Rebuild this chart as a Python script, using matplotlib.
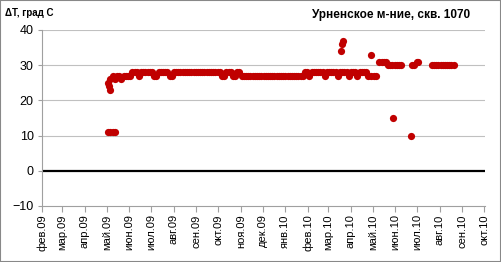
import datetime as dt
import matplotlib
matplotlib.use('Agg')
import matplotlib.pyplot as plt
import matplotlib.dates as mdates
from matplotlib.patches import Rectangle

MONTHS_RU = ['янв', 'фев', 'мар', 'апр', 'май', 'июн',
             'июл', 'авг', 'сен', 'окт', 'ноя', 'дек']

# main band: one reading every 3 days from 2009-05-03
BAND_START = dt.date(2009, 5, 3)
BAND_STEP_DAYS = 3
band_values = [
    25, 26, 27, 26, 27, 27, 26, 27, 27, 27, 27, 28, 28, 28, 27, 28, 28, 28, 28, 28,
    28, 27, 27, 28, 28, 28, 28, 28, 27, 27, 28, 28, 28, 28, 28, 28, 28, 28, 28, 28,
    28, 28, 28, 28, 28, 28, 28, 28, 28, 28, 28, 28, 27, 27, 28, 28, 28, 27, 27, 28,
    28, 27, 27, 27, 27, 27, 27, 27, 27, 27, 27, 27, 27, 27, 27, 27, 27, 27, 27, 27,
    27, 27, 27, 27, 27, 27, 27, 27, 27, 27, 28, 28, 27, 28, 28, 28, 28, 28, 28, 27,
    28, 28, 28, 28, 28, 27, 28, 28, 28, 28, 27, 28, 28, 28, 27, 28, 28, 28, 28, 27,
    27,
]

# separate readings (start-up, spikes, tail of 2010)
extra_dates = [
    '2009-05-03', '2009-05-06', '2009-05-09', '2009-05-12', '2009-05-06', '2009-05-04',
    '2010-03-19', '2010-03-20', '2010-03-21', '2010-04-29',
    '2010-05-02', '2010-05-06',
    '2010-05-10', '2010-05-13', '2010-05-16', '2010-05-19',
    '2010-05-22', '2010-05-25', '2010-05-28', '2010-05-31', '2010-06-03', '2010-06-06', '2010-06-09',
    '2010-05-29', '2010-06-23',
    '2010-06-24', '2010-06-27', '2010-06-30', '2010-07-02',
    '2010-07-21', '2010-07-24', '2010-07-27', '2010-07-30', '2010-08-02', '2010-08-05',
    '2010-08-08', '2010-08-11', '2010-08-14', '2010-08-17', '2010-08-20',
]
extra_values = [
    11, 11, 11, 11, 23, 24,
    34, 36, 37, 33,
    27, 27,
    31, 31, 31, 31,
    30, 30, 30, 30, 30, 30, 30,
    15, 10,
    30, 30, 31, 31,
    30, 30, 30, 30, 30, 30,
    30, 30, 30, 30, 30,
]

Y_TICKS = [-10, 0, 10, 20, 30, 40]
DOT_COLOR = '#C00000'

band_dates = [BAND_START + dt.timedelta(days=BAND_STEP_DAYS * i)
              for i in range(len(band_values))]
extra_dates = [dt.date.fromisoformat(d) for d in extra_dates]

fig = plt.figure(figsize=(5.01, 2.62), dpi=100)
ax = fig.add_axes([42 / 501, 1 - 206 / 262, (485 - 42) / 501, (206 - 30) / 262])

ax.scatter(band_dates, band_values, s=27, color=DOT_COLOR, linewidths=0, zorder=3)
ax.scatter(extra_dates, extra_values, s=27, color=DOT_COLOR, linewidths=0, zorder=3)

ax.set_ylim(-10, 40)
ax.set_yticks(Y_TICKS)
ax.set_xlim(dt.date(2009, 2, 1), dt.date(2010, 10, 2))

ax.xaxis.set_major_locator(mdates.MonthLocator())
ax.xaxis.set_major_formatter(
    plt.FuncFormatter(lambda v, _: '%s.%s' % (MONTHS_RU[mdates.num2date(v).month - 1],
                                              mdates.num2date(v).strftime('%y'))))

for y in Y_TICKS[1:]:
    if y != 0:
        ax.axhline(y, color='#c0c0c0', linewidth=0.8, zorder=1)
ax.axhline(0, color='black', linewidth=1.6, zorder=2)

for side in ['top', 'right']:
    ax.spines[side].set_visible(False)
for side in ['left', 'bottom']:
    ax.spines[side].set_color('#a0a0a0')
    ax.spines[side].set_linewidth(0.8)

ax.tick_params(axis='y', length=3, color='#a0a0a0', labelsize=9, pad=3)
ax.tick_params(axis='x', length=4, color='#a0a0a0', labelsize=8, pad=2,
               labelrotation=90)
for lab in ax.get_xticklabels() + ax.get_yticklabels():
    lab.set_family('Liberation Sans')

fig.text(5 / 501, 1 - 13 / 262, 'ΔT, град С', fontsize=7, fontweight='bold',
         family='Liberation Sans', va='center', ha='left')
fig.text(470 / 501, 1 - 15 / 262, 'Урненское м-ние, скв. 1070', fontsize=8.5,
         fontweight='bold', family='Liberation Sans', va='center', ha='right')

fig.patches.append(Rectangle((0, 0), 1, 1, transform=fig.transFigure, fill=False,
                             edgecolor='#888888', linewidth=1.5))

fig.savefig('out.png', dpi=100)
